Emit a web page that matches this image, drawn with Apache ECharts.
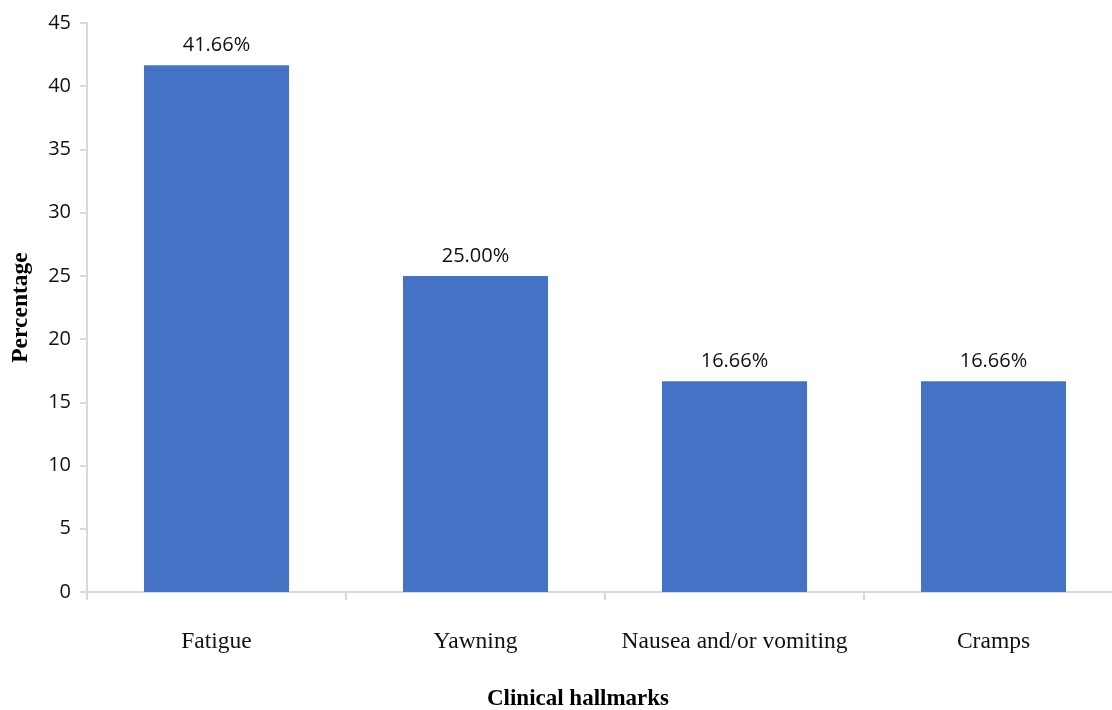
<!DOCTYPE html>
<html>
<head>
<meta charset="utf-8">
<script src="https://cdn.jsdelivr.net/npm/echarts@6/dist/echarts.min.js"></script>
<style>
  html, body { margin: 0; padding: 0; background: #fff; }
  #chart { width: 1112px; height: 710px; }
</style>
</head>
<body>
<div id="chart"></div>
<script>
// data
const categories = ['Fatigue', 'Yawning', 'Nausea and/or vomiting', 'Cramps'];
const percentages = [41.66, 25.00, 16.66, 16.66];
const yTicks = [0, 5, 10, 15, 20, 25, 30, 35, 40, 45];

const axisGrey = '#d9d9d9';
const serif = '"Liberation Serif", "DejaVu Serif", serif';
const sans = '"Open Sans", "Liberation Sans", sans-serif';

let myChart = echarts.init(document.getElementById('chart'));

let option = {
    animation: false,
    grid: {
        left: 87,
        right: -11,   // the original plot runs a little past the right edge
        top: 23,
        bottom: 118,
        outerBoundsMode: 'none',
        containLabel: false
    },
    xAxis: {
        type: 'category',
        data: categories,
        name: 'Clinical hallmarks',
        nameLocation: 'middle',
        nameGap: 96,
        nameTextStyle: {
            fontFamily: serif,
            fontWeight: 'bold',
            fontSize: 23,
            color: '#000',
            padding: [0, 54, 0, 0]   // nudge left, title sits left of axis centre
        },
        axisLine: { lineStyle: { color: axisGrey, width: 2 } },
        axisTick: { show: true, length: 8, lineStyle: { color: axisGrey, width: 2 } },
        axisLabel: {
            interval: 0,
            margin: 38,
            fontFamily: serif,
            fontSize: 23.5,
            color: '#111'
        }
    },
    yAxis: {
        type: 'value',
        min: yTicks[0],
        max: yTicks[yTicks.length - 1],
        interval: 5,
        name: 'Percentage',
        nameLocation: 'middle',
        nameGap: 54,
        nameTextStyle: {
            fontFamily: serif,
            fontWeight: 'bold',
            fontSize: 23.5,
            color: '#000'
        },
        axisLine: { show: true, lineStyle: { color: axisGrey, width: 2 } },
        axisTick: { show: true, length: 7, lineStyle: { color: axisGrey, width: 2 } },
        splitLine: { show: false },
        axisLabel: {
            margin: 16,
            fontFamily: sans,
            fontSize: 20,
            color: '#111'
        }
    },
    series: [
        {
            type: 'bar',
            data: percentages,
            barWidth: '56%',
            itemStyle: { color: '#4472C4' },
            label: {
                show: true,
                position: 'top',
                distance: 10,
                fontFamily: sans,
                fontSize: 20,
                color: '#111',
                formatter: (p) => p.value.toFixed(2) + '%'
            }
        }
    ]
};
option && myChart.setOption(option);
</script>
</body>
</html>
